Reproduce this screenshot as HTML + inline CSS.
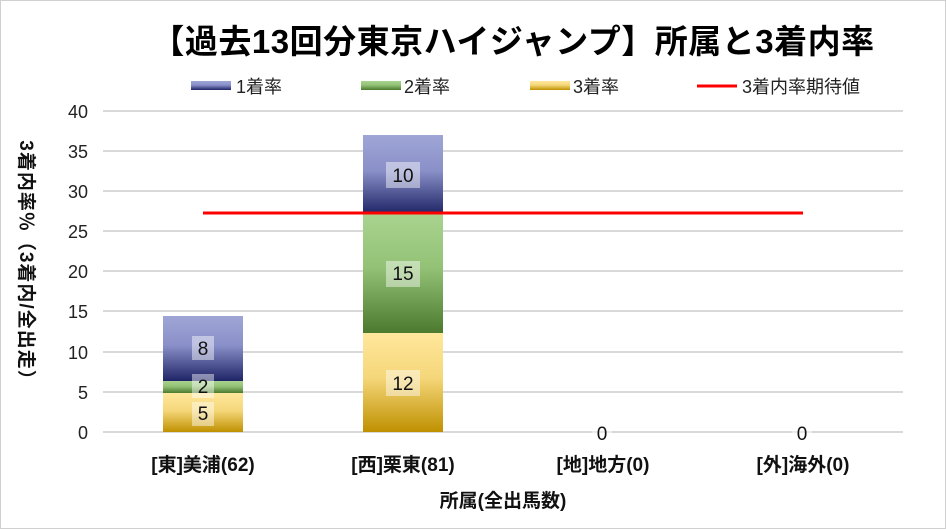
<!DOCTYPE html><html><head><meta charset="utf-8"><style>body{margin:0;background:#fff}svg{display:block}text{font-family:"Liberation Sans","Noto Sans CJK JP",sans-serif}</style></head><body>
<svg width="946" height="529" viewBox="0 0 946 529">
<defs>
<linearGradient id="b" x1="0" y1="0" x2="0" y2="1"><stop offset="0" stop-color="#9fa6d6"/><stop offset="0.45" stop-color="#8a90c8"/><stop offset="1" stop-color="#1e2466"/></linearGradient>
<linearGradient id="g" x1="0" y1="0" x2="0" y2="1"><stop offset="0" stop-color="#a9d38f"/><stop offset="0.45" stop-color="#93c276"/><stop offset="1" stop-color="#4b7a2f"/></linearGradient>
<linearGradient id="y" x1="0" y1="0" x2="0" y2="1"><stop offset="0" stop-color="#ffe79c"/><stop offset="0.45" stop-color="#f5d77a"/><stop offset="1" stop-color="#bf9000"/></linearGradient>
</defs>
<rect x="0.5" y="0.5" width="945" height="528" fill="#fff" stroke="#d0d0d0"/>
<text x="513" y="53" font-size="33" font-weight="bold" text-anchor="middle" fill="#000" letter-spacing="0.5">【過去13回分東京ハイジャンプ】所属と3着内率</text>
<rect x="191" y="81" width="40" height="9" fill="url(#b)"/><text x="236" y="93" font-size="18" fill="#222">1着率</text>
<rect x="361" y="81" width="40" height="9" fill="url(#g)"/><text x="404" y="93" font-size="18" fill="#222">2着率</text>
<rect x="530" y="81" width="40" height="9" fill="url(#y)"/><text x="573" y="93" font-size="18" fill="#222">3着率</text>
<line x1="697" y1="86" x2="737" y2="86" stroke="#f00" stroke-width="3"/><text x="742" y="93" font-size="18" fill="#222">3着内率期待値</text>
<g stroke="#d9d9d9" stroke-width="2">
<line x1="103" y1="111" x2="903" y2="111"/><line x1="103" y1="151" x2="903" y2="151"/><line x1="103" y1="191" x2="903" y2="191"/><line x1="103" y1="231" x2="903" y2="231"/><line x1="103" y1="271" x2="903" y2="271"/><line x1="103" y1="311" x2="903" y2="311"/><line x1="103" y1="352" x2="903" y2="352"/><line x1="103" y1="392" x2="903" y2="392"/><line x1="103" y1="432" x2="903" y2="432"/>
</g>
<g font-size="18" fill="#222" text-anchor="end">
<text x="88" y="118">40</text><text x="88" y="158">35</text><text x="88" y="198">30</text><text x="88" y="238">25</text><text x="88" y="278">20</text><text x="88" y="318">15</text><text x="88" y="359">10</text><text x="88" y="399">5</text><text x="88" y="439">0</text>
</g>
<rect x="163" y="393" width="80" height="39" fill="url(#y)"/>
<rect x="163" y="381" width="80" height="12" fill="url(#g)"/>
<rect x="163" y="316" width="80" height="65" fill="url(#b)"/>
<rect x="363" y="333" width="80" height="99" fill="url(#y)"/>
<rect x="363" y="214" width="80" height="119" fill="url(#g)"/>
<rect x="363" y="135" width="80" height="79" fill="url(#b)"/>
<line x1="203" y1="213" x2="803" y2="213" stroke="#f00" stroke-width="3"/>
<g fill="#fff" fill-opacity="0.45">
<rect x="192" y="402" width="22" height="24"/><rect x="192" y="374" width="22" height="24"/><rect x="192" y="336" width="22" height="24"/>
<rect x="386" y="370" width="34" height="26"/><rect x="386" y="261" width="34" height="26"/><rect x="386" y="162" width="34" height="26"/>
<rect x="592" y="421" width="20" height="24"/><rect x="792" y="421" width="20" height="24"/>
</g>
<g font-size="19" fill="#111" text-anchor="middle">
<text x="203" y="420">5</text><text x="203" y="393">2</text><text x="203" y="355">8</text>
<text x="403" y="390">12</text><text x="403" y="280">15</text><text x="403" y="182">10</text>
<text x="602" y="440">0</text><text x="802" y="440">0</text>
</g>
<g font-size="19" font-weight="bold" fill="#111" text-anchor="middle">
<text x="203" y="471">[東]美浦(62)</text><text x="403" y="471">[西]栗東(81)</text><text x="603" y="471">[地]地方(0)</text><text x="803" y="471">[外]海外(0)</text>
<text x="503" y="507">所属(全出馬数)</text>
</g>
<text transform="translate(20,265) rotate(90)" font-size="19" font-weight="bold" fill="#111" text-anchor="middle" letter-spacing="1">3着内率％（3着内/全出走）</text>
</svg></body></html>
